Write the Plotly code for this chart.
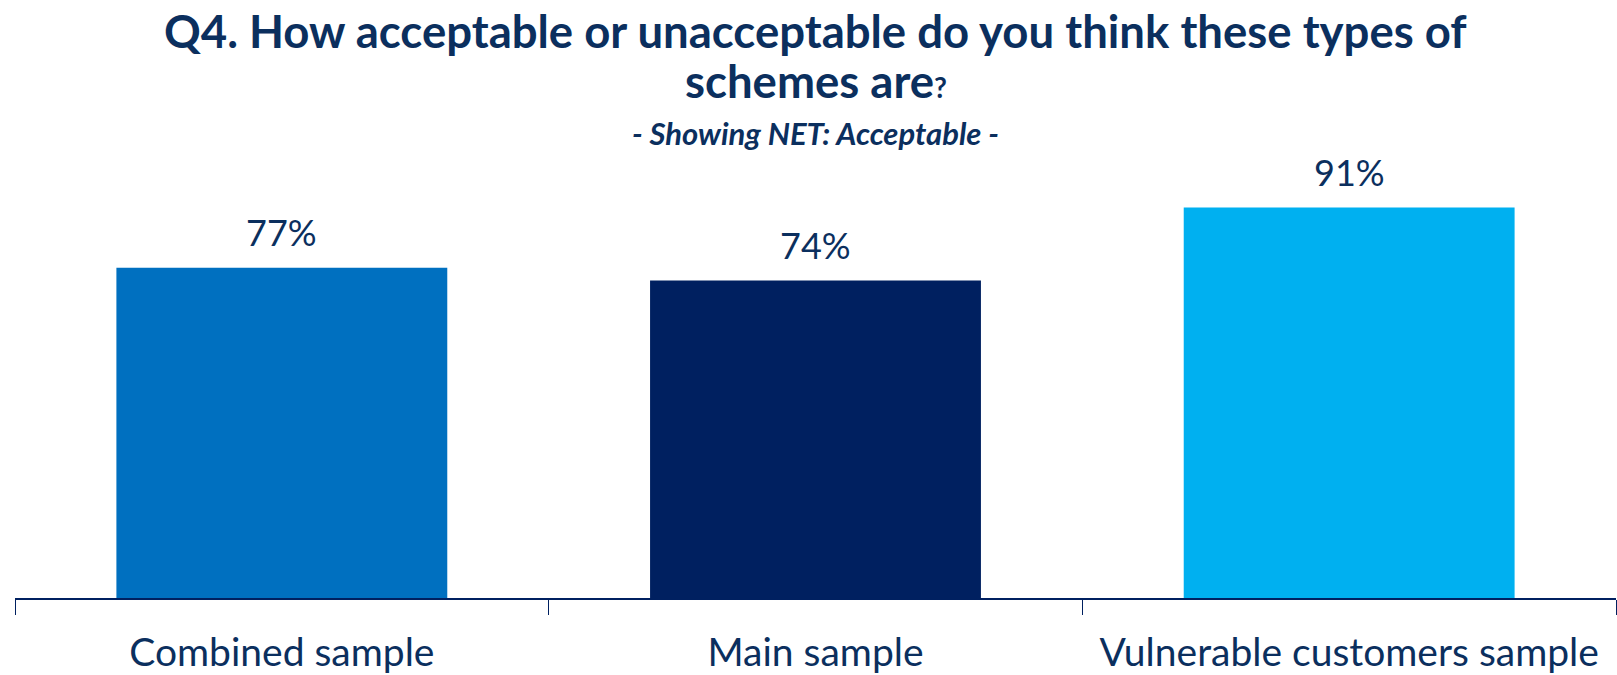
import plotly.graph_objects as go

categories = ["Combined sample", "Main sample", "Vulnerable customers sample"]
values = [77, 74, 91]
labels = ["77%", "74%", "91%"]
colors = ["#0070C0", "#002060", "#00B0F0"]

NAVY = "#0B2F5E"
FONT = "Lato"

fig = go.Figure()
fig.add_trace(go.Bar(
    x=categories, y=values, marker=dict(color=colors, line=dict(width=0)),
    width=0.62, hoverinfo="x+y",
))

annotations = []
for c, v, t in zip(categories, values, labels):
    annotations.append(dict(
        x=c, y=v, xref="x", yref="y", text=t, showarrow=False,
        yanchor="middle", yshift=36,
        font=dict(family=FONT, size=36, color=NAVY),
    ))

title_lines = [
    ("<b>Q4. How acceptable or unacceptable do you think these types of</b>", 139, 45.5),
    ("<b>schemes are<span style='font-size:28px'>?</span></b>", 89, 45.5),
    ("<b><i>- Showing NET: Acceptable -</i></b>", 36, 31),
]
for text, ys, sz in title_lines:
    annotations.append(dict(
        text=text, xref="paper", yref="paper", x=0.5, y=1.0,
        xanchor="center", yanchor="middle", yshift=ys, showarrow=False,
        font=dict(family=FONT, size=sz, color=NAVY),
    ))

fig.update_layout(
    width=1617, height=675,
    margin=dict(l=15, r=1, t=169, b=70),
    paper_bgcolor="white", plot_bgcolor="white",
    showlegend=False,
    annotations=annotations,
    xaxis=dict(
        showline=True, linecolor="#002060", linewidth=2,
        ticks="outside", tickson="boundaries", ticklen=15, tickcolor="#002060", tickwidth=1,
        tickfont=dict(family=FONT, size=39, color=NAVY),
        ticklabelstandoff=19,
        showgrid=False,
    ),
    yaxis=dict(range=[0, 100], visible=False, showgrid=False, zeroline=False),
)

fig.write_html("out.html")
